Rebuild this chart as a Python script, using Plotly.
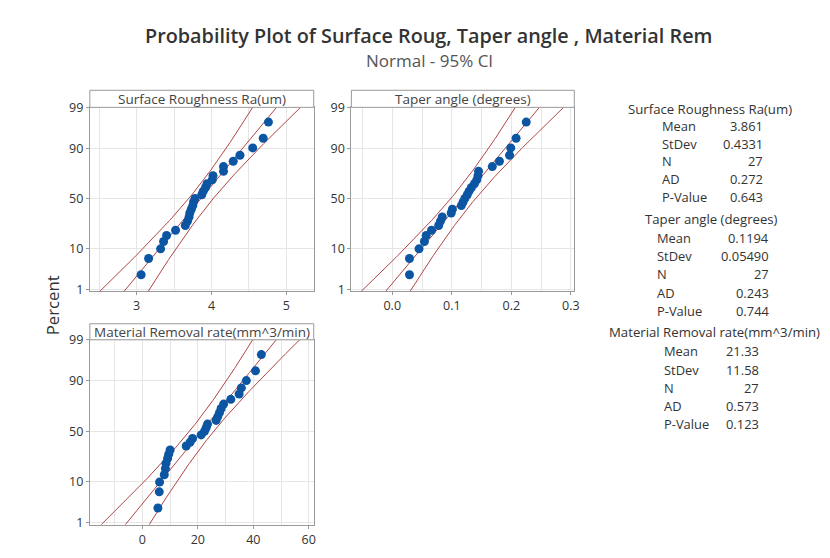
import plotly.graph_objects as go
from statistics import NormalDist
import numpy as np

nd = NormalDist()

# ---------------- data ----------------
panel_titles = ["Surface Roughness Ra(um)", "Taper angle (degrees)", "Material Removal rate(mm^3/min)"]

surface_roughness = [3.06, 3.16, 3.32, 3.36, 3.40, 3.52, 3.65, 3.68, 3.70, 3.71, 3.73, 3.75, 3.76, 3.78,
                     3.87, 3.89, 3.92, 3.94, 4.01, 4.02, 4.16, 4.16, 4.29, 4.38, 4.55, 4.69, 4.76]
taper_angle = [0.029, 0.029, 0.045, 0.054, 0.057, 0.066, 0.078, 0.081, 0.084, 0.099, 0.101, 0.116, 0.119, 0.122,
               0.126, 0.129, 0.133, 0.138, 0.142, 0.144, 0.145, 0.168, 0.180, 0.197, 0.199, 0.208, 0.225]
material_removal = [5.6, 6.1, 6.2, 7.9, 8.3, 8.5, 9.1, 9.5, 10.0, 15.8, 17.2, 18.1, 21.2, 22.4,
                    23.0, 23.5, 26.6, 27.2, 27.8, 28.4, 29.3, 31.9, 34.9, 35.7, 37.5, 40.8, 42.9]

stat_labels = ["Mean", "StDev", "N", "AD", "P-Value"]
sr_stats = ["3.861", "0.4331", "27", "0.272", "0.643"]
ta_stats = ["0.1194", "0.05490", "27", "0.243", "0.744"]
mrr_stats = ["21.33", "11.58", "27", "0.573", "0.123"]

y_tick_percent = [1, 10, 50, 90, 99]

# ---------------- page geometry ----------------
# measured mapping of figure pixels onto the photographed page
SX, CX = 0.99, 8.0
SY, CY = 0.9675, 17.0
FW, FH = 834, 560

def px_x(p):
    return ((p - CX) / SX) / FW

def px_y(p):
    return 1 - ((p - CY) / SY) / FH

def zq(pct):
    return nd.inv_cdf(pct / 100.0)

MARKER = "#0B55A3"
LINE = "#B04545"
GRID = "#E6E6E6"
BORDER = "#9A9A9A"
TXT = "#333333"
FONT = "Open Sans"

panels = [
    dict(x0=89.5, x1=312.5, top=107.0, bot=290.0, htop=90.0, xr=[2.375, 5.365], dt=1, mdt=0.5, fmt=""),
    dict(x0=350.0, x1=572.0, top=107.0, bot=290.0, htop=90.0, xr=[-0.0686, 0.3057], dt=0.1, mdt=0.05, fmt=".1f"),
    dict(x0=89.5, x1=312.5, top=338.5, bot=522.5, htop=322.5, xr=[-18.95, 61.8], dt=20, mdt=10, fmt=""),
]
series = [surface_roughness, taper_angle, material_removal]
stats = [sr_stats, ta_stats, mrr_stats]

fig = go.Figure()
shapes = []
annotations = []

z_top = zq(99)
z_bot = -2.37
zs = np.linspace(-3.2, 3.2, 200)

for k, (p, data, st) in enumerate(zip(panels, series, stats)):
    xa = "x" if k == 0 else f"x{k+1}"
    ya = "y" if k == 0 else f"y{k+1}"
    n = len(data)
    srt = sorted(data)
    # Benard median ranks (Minitab default plotting positions)
    zpos = [nd.inv_cdf((i + 1 - 0.3) / (n + 0.4)) for i in range(n)]
    mean = float(st[0])
    sd = float(st[1])
    fit = mean + sd * zs
    half = 1.96 * sd * np.sqrt((1 + zs ** 2 / 2) / n)
    for xs in (fit - half, fit, fit + half):
        fig.add_trace(go.Scatter(x=xs, y=zs, mode="lines", line=dict(color=LINE, width=1),
                                 xaxis=xa, yaxis=ya, hoverinfo="skip", showlegend=False))
    fig.add_trace(go.Scatter(x=srt, y=zpos, mode="markers",
                             marker=dict(color=MARKER, size=9, line=dict(width=0)),
                             xaxis=xa, yaxis=ya, showlegend=False))

    xkey = "xaxis" if k == 0 else f"xaxis{k+1}"
    ykey = "yaxis" if k == 0 else f"yaxis{k+1}"
    fig.layout[xkey] = dict(
        domain=[px_x(p["x0"]), px_x(p["x1"])], range=p["xr"], anchor=ya,
        dtick=p["dt"], tick0=0, tickformat=p["fmt"],
        showgrid=True, gridcolor=GRID, gridwidth=1,
        minor=dict(dtick=p["mdt"], tick0=0, showgrid=True, gridcolor=GRID, ticks=""),
        showline=True, linecolor=BORDER, linewidth=1, mirror=True,
        ticks="outside", ticklen=3, tickcolor=BORDER,
        tickfont=dict(family=FONT, size=12.5, color=TXT), zeroline=False, fixedrange=True,
    )
    fig.layout[ykey] = dict(
        domain=[px_y(p["bot"]), px_y(p["top"])], range=[z_bot, z_top], anchor=xa,
        tickvals=[zq(v) for v in y_tick_percent], ticktext=[str(v) for v in y_tick_percent],
        showgrid=True, gridcolor=GRID, gridwidth=1,
        showline=True, linecolor=BORDER, linewidth=1, mirror=True,
        ticks="outside", ticklen=3, tickcolor=BORDER,
        tickfont=dict(family=FONT, size=12.5, color=TXT), zeroline=False, fixedrange=True,
    )
    shapes.append(dict(type="rect", xref="paper", yref="paper",
                       x0=px_x(p["x0"]), x1=px_x(p["x1"]), y0=px_y(p["top"]), y1=px_y(p["htop"]),
                       line=dict(color=BORDER, width=1), fillcolor="white", layer="above"))
    annotations.append(dict(text=panel_titles[k], xref="paper", yref="paper",
                            x=px_x((p["x0"] + p["x1"]) / 2), y=px_y((p["top"] + p["htop"]) / 2 + 0.5),
                            xanchor="center", yanchor="middle", showarrow=False, borderpad=0,
                            font=dict(family=FONT, size=13.5, color="#444444")))

annotations.append(dict(text="Probability Plot of Surface Roug, Taper angle , Material Rem",
                        xref="paper", yref="paper", x=px_x(427), y=px_y(35), xanchor="center",
                        yanchor="middle", showarrow=False, borderpad=0,
                        font=dict(family=FONT, size=19.8, color=TXT, weight=600)))
annotations.append(dict(text="Normal - 95% CI", xref="paper", yref="paper", x=px_x(428), y=px_y(60.5),
                        xanchor="center", yanchor="middle", showarrow=False, borderpad=0,
                        font=dict(family=FONT, size=17, color="#555555")))
annotations.append(dict(text="Percent", xref="paper", yref="paper", x=px_x(52), y=px_y(304),
                        xanchor="center", yanchor="middle", textangle=-90, showarrow=False, borderpad=0,
                        font=dict(family=FONT, size=16.8, color=TXT)))

blocks = [
    dict(hy=108.3, hx=707.5, lx=658, vx=760.5, ys=[125.5, 143.5, 160.5, 178.5, 196.5]),
    dict(hy=217.7, hx=708.5, lx=653, vx=766.5, ys=[237, 255.5, 273, 291.5, 310]),
    dict(hy=330.7, hx=712.0, lx=660, vx=757, ys=[349.5, 368.5, 386.5, 404.5, 422.5]),
]
SF = 12.9
for b, title, st in zip(blocks, panel_titles, stats):
    annotations.append(dict(text=title, xref="paper", yref="paper", x=px_x(b["hx"]), y=px_y(b["hy"]),
                            xanchor="center", yanchor="middle", showarrow=False, borderpad=0,
                            font=dict(family=FONT, size=SF + 0.3, color=TXT)))
    for lab, val, yy in zip(stat_labels, st, b["ys"]):
        annotations.append(dict(text=lab, xref="paper", yref="paper", x=px_x(b["lx"]), y=px_y(yy),
                                xanchor="left", yanchor="middle", showarrow=False, borderpad=0,
                                font=dict(family=FONT, size=SF, color=TXT)))
        annotations.append(dict(text=val, xref="paper", yref="paper", x=px_x(b["vx"]), y=px_y(yy),
                                xanchor="right", yanchor="middle", showarrow=False, borderpad=0,
                                font=dict(family=FONT, size=SF, color=TXT)))

fig.update_layout(
    width=FW, height=FH, margin=dict(l=0, r=0, t=0, b=0),
    paper_bgcolor="white", plot_bgcolor="white",
    shapes=shapes, annotations=annotations, showlegend=False,
)

fig.write_html("out.html")
